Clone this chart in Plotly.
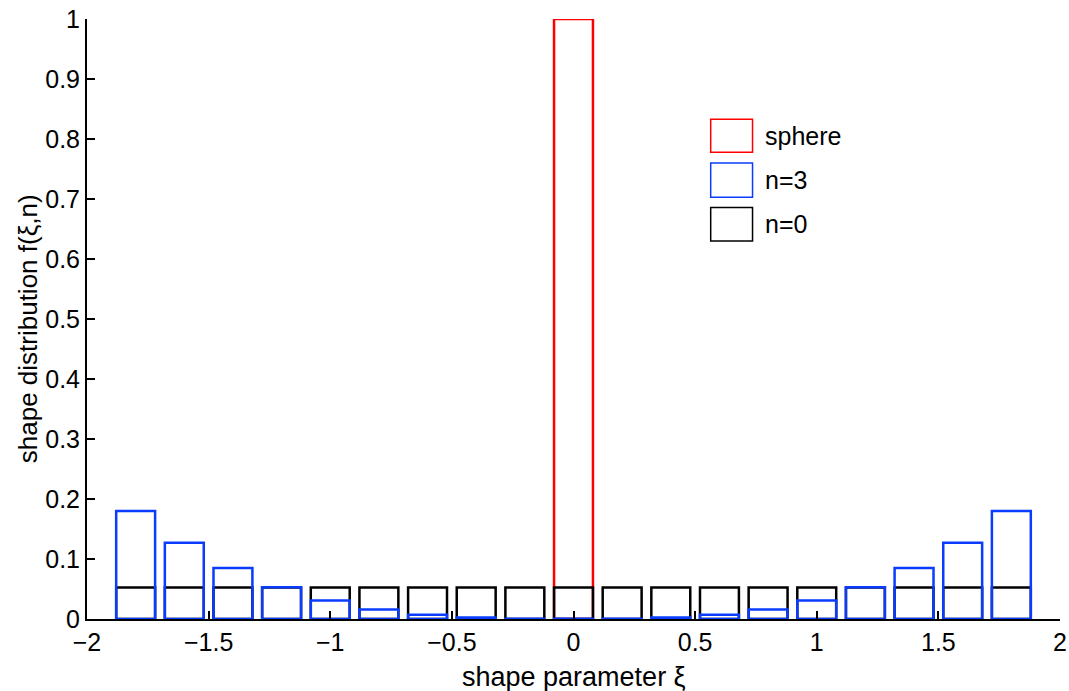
import plotly.graph_objects as go

# Bin centres of the shape parameter xi
xi = [-1.8, -1.6, -1.4, -1.2, -1.0, -0.8, -0.6, -0.4, -0.2, 0.0,
      0.2, 0.4, 0.6, 0.8, 1.0, 1.2, 1.4, 1.6, 1.8]

# Shape distributions f(xi, n)
sphere_xi = [0.0]
sphere_f = [1.0]
n0_f = [0.0526, 0.0526, 0.0526, 0.0526, 0.0526, 0.0526, 0.0526, 0.0526, 0.0526, 0.0526,
        0.0526, 0.0526, 0.0526, 0.0526, 0.0526, 0.0526, 0.0526, 0.0526, 0.0526]
n3_f = [0.180, 0.127, 0.085, 0.053, 0.031, 0.016, 0.007, 0.0025, 0.0006, 0.0003,
        0.0006, 0.0025, 0.007, 0.016, 0.031, 0.053, 0.085, 0.127, 0.180]

legend_names = ["sphere", "n=3", "n=0"]
RED = "#ff0000"
BLUE = "#0a3cff"
BLACK = "#000000"

BAR_W = 0.16
FONT = "Liberation Sans, Arial, Helvetica, sans-serif"

fig = go.Figure()


def outline_bar(x, y, color):
    return go.Bar(
        x=x, y=y, width=BAR_W,
        marker=dict(color="rgba(0,0,0,0)", line=dict(color=color, width=2.5)),
        showlegend=False, hoverinfo="x+y",
    )


fig.add_trace(outline_bar(sphere_xi, sphere_f, RED))
fig.add_trace(outline_bar(xi, n0_f, BLACK))
fig.add_trace(outline_bar(xi, n3_f, BLUE))

# Legend drawn as large open boxes with labels (paper coordinates)
shapes = []
annotations = []
box_x0, box_x1 = 0.641, 0.684
rows = [(0.778, 0.833), (0.703, 0.760), (0.630, 0.686)]
for name, color, (y0, y1) in zip(legend_names, [RED, BLUE, BLACK], rows):
    shapes.append(dict(type="rect", xref="paper", yref="paper",
                       x0=box_x0, x1=box_x1, y0=y0, y1=y1,
                       line=dict(color=color, width=1.5), fillcolor="rgba(0,0,0,0)"))
    annotations.append(dict(xref="paper", yref="paper", x=0.695, y=(y0 + y1) / 2,
                            text=name, showarrow=False, xanchor="left", yanchor="middle",
                            font=dict(family=FONT, size=25, color="black")))

# Axis titles
annotations.append(dict(xref="paper", yref="paper", x=0.5, y=-0.097,
                        text="shape parameter ξ", showarrow=False,
                        xanchor="center", yanchor="middle",
                        font=dict(family=FONT, size=27, color="black")))
annotations.append(dict(xref="paper", yref="paper", x=-0.061, y=0.484,
                        text="shape distribution f(ξ,n)", showarrow=False, textangle=-90,
                        xanchor="center", yanchor="middle",
                        font=dict(family=FONT, size=26, color="black")))

fig.update_layout(
    width=1069, height=691,
    margin=dict(l=87, r=9, t=19, b=72),
    paper_bgcolor="white", plot_bgcolor="white",
    barmode="overlay",
    showlegend=False,
    font=dict(family=FONT, size=25, color="black"),
    shapes=shapes,
    annotations=annotations,
    xaxis=dict(
        range=[-2, 2], tickmode="array",
        tickvals=[-2, -1.5, -1, -0.5, 0, 0.5, 1, 1.5, 2],
        ticks="inside", ticklen=8, tickwidth=2, tickcolor="black",
        showline=True, linecolor="black", linewidth=2,
        showgrid=False, zeroline=False, automargin=False,
        tickfont=dict(size=25),
    ),
    yaxis=dict(
        range=[0, 1], tickmode="array",
        tickvals=[0, 0.1, 0.2, 0.3, 0.4, 0.5, 0.6, 0.7, 0.8, 0.9, 1],
        ticktext=["0", "0.1", "0.2", "0.3", "0.4", "0.5", "0.6", "0.7", "0.8", "0.9", "1"],
        ticks="inside", ticklen=8, tickwidth=2, tickcolor="black",
        showline=True, linecolor="black", linewidth=2,
        showgrid=False, zeroline=False, automargin=False,
        tickfont=dict(size=25),
    ),
)

fig.write_html("out.html")
